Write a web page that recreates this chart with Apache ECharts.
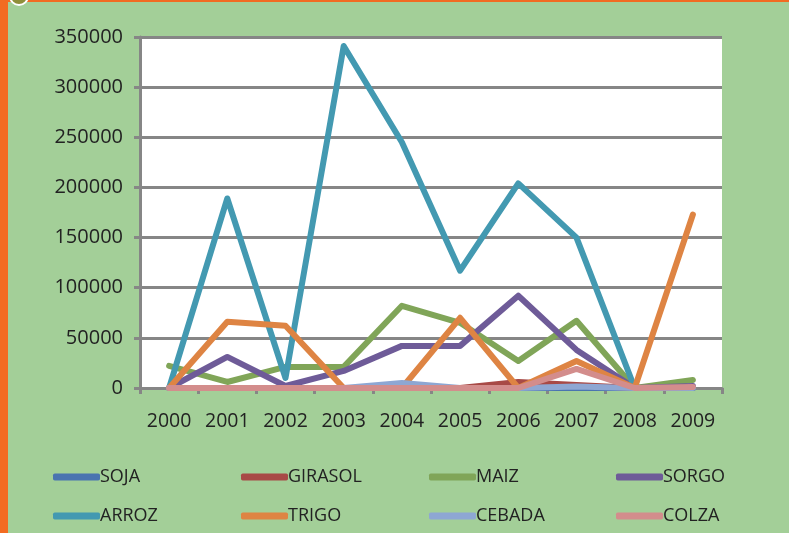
<!DOCTYPE html>
<html>
<head>
<meta charset="utf-8">
<script src="https://cdn.jsdelivr.net/npm/echarts@6/dist/echarts.min.js"></script>
<style>
html,body{margin:0;padding:0;background:#a3cf98;}
#c{width:789px;height:533px;}
</style>
</head>
<body>
<div id="c"></div>
<script>
const years = ['2000','2001','2002','2003','2004','2005','2006','2007','2008','2009'];
const yTicks = [0, 350000, 50000];
const SOJA    = [0, 0, 0, 0, 0, 0, 0, 0, 0, 0];
const GIRASOL = [0, 0, 0, 0, 0, 0, 6000, 3000, 0, 0];
const MAIZ    = [22000, 6000, 21000, 21000, 82000, 65000, 27000, 67000, 0, 8000];
const SORGO   = [0, 31000, 2000, 17000, 42000, 42000, 92000, 38000, 0, 2000];
const ARROZ   = [0, 189000, 10000, 341000, 245000, 117000, 204000, 150000, 0, 0];
const TRIGO   = [0, 66000, 62000, 0, 0, 70000, 0, 27000, 0, 173000];
const CEBADA  = [0, 0, 0, 0, 5000, 0, 0, 1500, 0, 0];
const COLZA   = [0, 0, 0, 0, 0, 0, 0, 19000, 0, 1000];

const seriesNames = ['SOJA','GIRASOL','MAIZ','SORGO','ARROZ','TRIGO','CEBADA','COLZA'];
const seriesData = [SOJA, GIRASOL, MAIZ, SORGO, ARROZ, TRIGO, CEBADA, COLZA];
const colors = ['#4a74b0','#a84a46','#80a558','#6e5b98','#4399b1','#de8443','#8ea7d3','#d38d8c'];

const font = 'Open Sans';
const chart = echarts.init(document.getElementById('c'));
const rowTop = [463, 502];
const colLeft = [48, 236, 424, 611];
chart.setOption({
  backgroundColor: '#a3cf98',
  animation: false,
  color: colors,
  grid: {left: 140, right: 67, top: 37, bottom: 145, backgroundColor: '#ffffff', show: true, borderWidth: 0},
  legend: seriesNames.map((n, i) => ({
    data: [n],
    left: colLeft[i % 4], top: rowTop[Math.floor(i / 4)],
    itemWidth: 47, itemHeight: 7, itemGap: 0,
    icon: 'roundRect',
    textStyle: {fontFamily: font, fontSize: 18, color: '#222', padding: [0,0,0,-5]},
    selectedMode: false
  })),
  xAxis: {
    type: 'category', data: years, boundaryGap: true,
    axisLine: {lineStyle: {color: '#868686', width: 3}},
    axisTick: {show: true, interval: 0, length: 6, lineStyle: {color: '#868686', width: 3}},
    axisLabel: {interval: 0, fontFamily: font, fontSize: 19.5, color: '#222', margin: 23}
  },
  yAxis: {
    type: 'value', min: yTicks[0], max: yTicks[1], interval: yTicks[2],
    axisLine: {show: true, lineStyle: {color: '#868686', width: 3}},
    axisTick: {show: true, length: 6, lineStyle: {color: '#868686', width: 3}},
    splitLine: {lineStyle: {color: '#868686', width: 3}},
    axisLabel: {fontFamily: font, fontSize: 20, color: '#222', margin: 17, formatter: v => String(v)}
  },
  series: seriesNames.map((n, i) => ({
    name: n, type: 'line', data: seriesData[i],
    showSymbol: false, symbol: 'none',
    lineStyle: {width: 6, color: colors[i], cap: 'round', join: 'round'},
    itemStyle: {color: colors[i]}
  })),
  graphic: [
    {type: 'rect', shape: {x: 0, y: 0, width: 8, height: 533}, style: {fill: '#f26b22'}, z: 100},
    {type: 'rect', shape: {x: 0, y: 0, width: 789, height: 2}, style: {fill: '#f26b22'}, z: 100},
    {type: 'circle', shape: {cx: 19, cy: -4, r: 9}, style: {fill: '#8f8f3a', stroke: '#ffffff', lineWidth: 2}, z: 101}
  ]
});
</script>
</body>
</html>
